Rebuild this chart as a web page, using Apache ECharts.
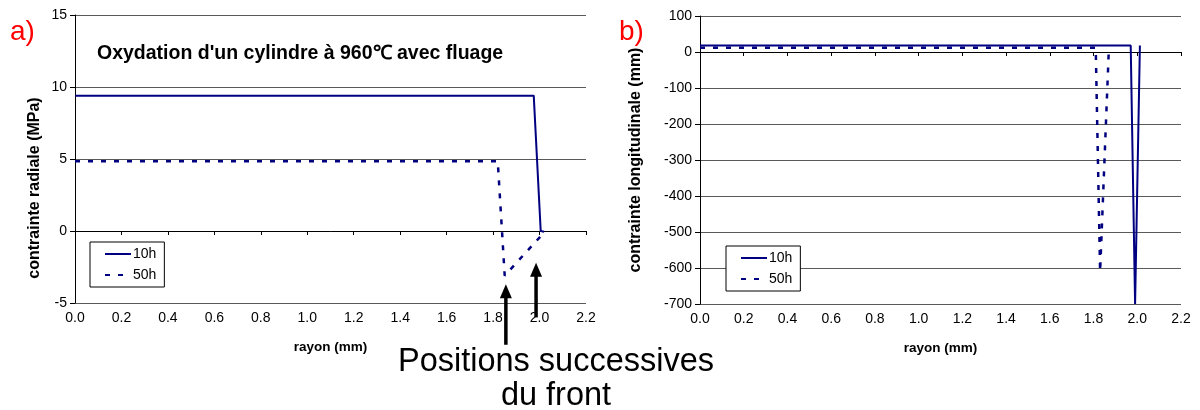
<!DOCTYPE html>
<html>
<head>
<meta charset="utf-8">
<script src="https://cdn.jsdelivr.net/npm/echarts@6/dist/echarts.min.js"></script>
<style>
  html, body { margin: 0; padding: 0; background: #fff; }
  #main { width: 1200px; height: 410px; }
</style>
</head>
<body>
<div id="main"></div>
<script>
// a) contrainte radiale
const rayonA10 = [0, 1.975, 2.005, 2.02];
const radialeA10 = [9.4, 9.4, 0, -0.05];
const rayonA50 = [0, 1.82, 1.85, 2.02];
const radialeA50 = [4.85, 4.85, -3.1, -0.1];

// b) contrainte longitudinale
const rayonB10 = [0, 1.97, 1.99, 2.012];
const longiB10 = [18, 18, -700, 18];
const rayonB50 = [0, 1.81, 1.83, 1.87];
const longiB50 = [12, 12, -610, 8];

const xTicks = ['0.0', '0.2', '0.4', '0.6', '0.8', '1.0', '1.2', '1.4', '1.6', '1.8', '2.0', '2.2'];

// fleches "positions successives du front" (coordonnees du graphe a)
const arrowX = [1.855, 1.985];
const arrowTip = [-3.7, -2.2];
const arrowBase = [-7.9, -6.0];

const FONT = '"Liberation Sans", Arial, sans-serif';
const NAVY = '#000080';

function zip(xs, ys) {
  return xs.map((x, i) => [x, ys[i]]);
}

function xAxisFor(gridIndex) {
  return {
    type: 'value',
    gridIndex: gridIndex,
    min: 0,
    max: 2.2,
    interval: 0.2,
    name: 'rayon (mm)',
    nameLocation: 'middle',
    nameGap: 37,
    nameTextStyle: { fontFamily: FONT, fontWeight: 'bold', fontSize: 13.5, color: '#000' },
    axisLine: { show: true, lineStyle: { color: '#000', width: 1 } },
    axisTick: { show: true, inside: false, length: 4, lineStyle: { color: '#000' } },
    axisLabel: {
      fontFamily: FONT, fontSize: 14, color: '#000', margin: 8,
      formatter: (v) => xTicks[Math.round(v / 0.2)]
    },
    splitLine: { show: false }
  };
}

// namePad: decale le titre d'axe vers le bas (texte tourne)
function yAxisFor(gridIndex, min, max, interval, name, gap, namePad) {
  return {
    type: 'value',
    gridIndex: gridIndex,
    min: min,
    max: max,
    interval: interval,
    name: name,
    nameLocation: 'middle',
    nameRotate: 90,
    nameGap: gap,
    nameTextStyle: {
      fontFamily: FONT, fontWeight: 'bold', fontSize: 16, color: '#000',
      padding: [0, namePad, 0, 0]
    },
    axisLine: { show: true, onZero: false, lineStyle: { color: '#000', width: 1 } },
    axisTick: { show: true, inside: false, length: 5, lineStyle: { color: '#000' } },
    axisLabel: { fontFamily: FONT, fontSize: 14, color: '#000', margin: 8 },
    splitLine: { show: true, lineStyle: { color: '#5a5a5a', width: 1 } }
  };
}

function lineSeries(name, idx, data, dashed) {
  return {
    name: name,
    type: 'line',
    xAxisIndex: idx,
    yAxisIndex: idx,
    data: data,
    symbol: 'none',
    animation: false,
    lineStyle: dashed
      ? { color: NAVY, width: 2.5, type: [5, 8] }
      : { color: NAVY, width: 2 },
    itemStyle: { color: NAVY }
  };
}

function legendAt(left, top) {
  return {
    orient: 'vertical',
    left: left,
    top: top,
    data: ['10h', '50h'],
    backgroundColor: '#fff',
    borderColor: '#000',
    borderWidth: 1,
    borderRadius: 0,
    padding: [5, 8, 5, 14],
    itemWidth: 26,
    itemHeight: 10,
    itemGap: 7,
    itemStyle: { opacity: 0 },
    selectedMode: false,
    textStyle: { fontFamily: FONT, fontSize: 14, color: '#000', padding: [0, 0, 0, -3] }
  };
}

const chart = echarts.init(document.getElementById('main'), null, { renderer: 'canvas' });

chart.setOption({
  animation: false,
  backgroundColor: '#fff',
  title: {
    text: "Oxydation d'un cylindre à 960℃ avec fluage",
    left: 92,
    top: 39,
    textStyle: { fontFamily: FONT, fontWeight: 'bold', fontSize: 19.5, color: '#000' }
  },
  grid: [
    { left: 75, top: 15, width: 511, height: 288 },
    { left: 700, top: 16, width: 481, height: 288 }
  ],
  xAxis: [xAxisFor(0), xAxisFor(1)],
  yAxis: [
    yAxisFor(0, -5, 15, 5, 'contrainte radiale (MPa)', 32, 58),
    yAxisFor(1, -700, 100, 100, 'contrainte longitudinale (mm)', 56, 0)
  ],
  legend: [legendAt(90, 242), legendAt(726, 246)],
  series: [
    lineSeries('10h', 0, zip(rayonA10, radialeA10), false),
    lineSeries('50h', 0, zip(rayonA50, radialeA50), true),
    lineSeries('10h', 1, zip(rayonB10, longiB10), false),
    lineSeries('50h', 1, zip(rayonB50, longiB50), true)
  ]
});

// annotations: lettres, fleches et texte du front
const graphics = [
  { type: 'text', left: 10, top: 18, style: { text: 'a)', font: '28px ' + FONT, fill: '#ff0000' } },
  { type: 'text', left: 619, top: 18, style: { text: 'b)', font: '28px ' + FONT, fill: '#ff0000' } },
  {
    type: 'text', x: 556, y: 346,
    style: { text: 'Positions successives', font: '32.5px ' + FONT, fill: '#000', align: 'center', verticalAlign: 'top' }
  },
  {
    type: 'text', x: 556, y: 380,
    style: { text: 'du front', font: '32.5px ' + FONT, fill: '#000', align: 'center', verticalAlign: 'top' }
  }
];

arrowX.forEach((x, i) => {
  const tip = chart.convertToPixel({ gridIndex: 0 }, [x, arrowTip[i]]);
  const base = chart.convertToPixel({ gridIndex: 0 }, [x, arrowBase[i]]);
  const headLen = 14;
  graphics.push({
    type: 'line',
    shape: { x1: tip[0], y1: tip[1] + headLen - 2, x2: base[0], y2: base[1] },
    style: { stroke: '#000', lineWidth: 3.5 }
  });
  graphics.push({
    type: 'polygon',
    shape: { points: [[tip[0], tip[1]], [tip[0] - 6, tip[1] + headLen], [tip[0] + 6, tip[1] + headLen]] },
    style: { fill: '#000' }
  });
});

chart.setOption({ graphic: graphics });
</script>
</body>
</html>
